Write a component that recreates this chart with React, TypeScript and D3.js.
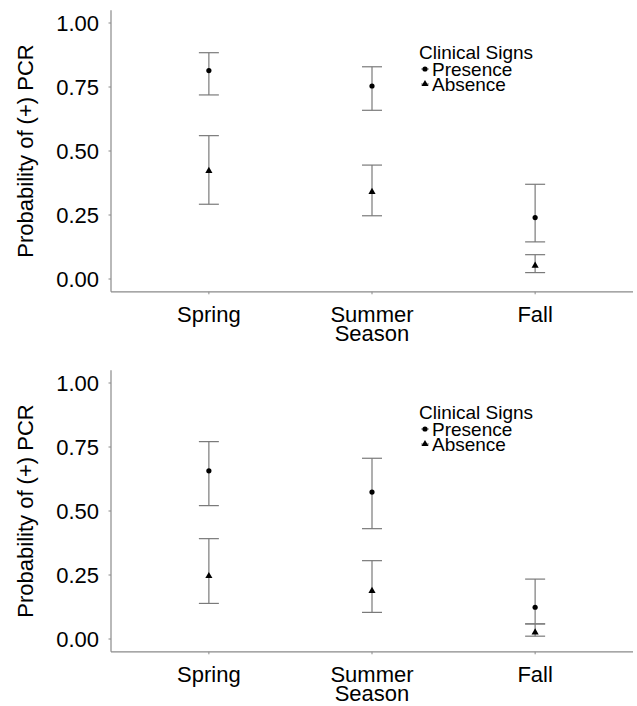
import React from "react";
import * as d3 from "d3";

const seasons = ["Spring", "Summer", "Fall"];
const yTicks = [0, 0.25, 0.5, 0.75, 1.0];
const legendTitle = "Clinical Signs";
const seriesNames = ["Presence", "Absence"];

// Top panel
const topPresenceEst = [0.814, 0.754, 0.24];
const topPresenceLo = [0.719, 0.659, 0.145];
const topPresenceHi = [0.884, 0.829, 0.37];
const topAbsenceEst = [0.422, 0.34, 0.052];
const topAbsenceLo = [0.292, 0.247, 0.025];
const topAbsenceHi = [0.56, 0.445, 0.095];

// Bottom panel
const botPresenceEst = [0.657, 0.574, 0.124];
const botPresenceLo = [0.521, 0.431, 0.059];
const botPresenceHi = [0.771, 0.706, 0.234];
const botAbsenceEst = [0.246, 0.188, 0.026];
const botAbsenceLo = [0.139, 0.104, 0.011];
const botAbsenceHi = [0.392, 0.306, 0.059];

const FONT = "'Liberation Sans', Arial, sans-serif";
const AXIS = "#8a8a8a";
const BAR = "#7a7a7a";
const TXT = "#000";

type Series = { est: number[]; lo: number[]; hi: number[]; shape: "circle" | "triangle" };

function Marker({ x, y, shape }: { x: number; y: number; shape: string }) {
  if (shape === "circle") return <circle cx={x} cy={y} r={2.6} fill="#000" />;
  const s = d3.symbol().type(d3.symbolTriangle).size(22)();
  return <path d={s as string} transform={`translate(${x},${y})`} fill="#000" />;
}

function Panel({ offsetY, series }: { offsetY: number; series: Series[] }) {
  const left = 111;
  const right = 633;
  const x = d3.scalePoint<string>().domain(seasons).range([left, right]).padding(0.6);
  const y = d3.scaleLinear().domain([-0.05, 1.05]).range([291.8, 10.2]);
  const capHalf = 10;
  return (
    <g transform={`translate(0,${offsetY})`}>
      <line x1={left} x2={left} y1={y(1.05)} y2={y(-0.05)} stroke={AXIS} strokeWidth={1.2} />
      <line x1={left} x2={right} y1={y(-0.05)} y2={y(-0.05)} stroke={AXIS} strokeWidth={1.2} />
      {yTicks.map((t) => (
        <g key={t}>
          <line x1={left - 2.5} x2={left} y1={y(t)} y2={y(t)} stroke={AXIS} strokeWidth={1} />
          <text x={99} y={y(t)} dy="0.36em" textAnchor="end" fontFamily={FONT} fontSize={22} fill={TXT}>
            {t.toFixed(2)}
          </text>
        </g>
      ))}
      {seasons.map((s) => (
        <g key={s}>
          <line x1={x(s)} x2={x(s)} y1={y(-0.05)} y2={y(-0.05) + 2.5} stroke={AXIS} strokeWidth={1} />
          <text x={x(s)} y={y(-0.05) + 22} dy="0.36em" textAnchor="middle" fontFamily={FONT} fontSize={22} fill={TXT}>
            {s}
          </text>
        </g>
      ))}
      <text x={(left + right) / 2} y={y(-0.05) + 41} dy="0.36em" textAnchor="middle" fontFamily={FONT} fontSize={22} fill={TXT}>
        Season
      </text>
      <text
        transform={`translate(25,${y(0.5)}) rotate(-90)`}
        dy="0.36em"
        textAnchor="middle"
        fontFamily={FONT}
        fontSize={22}
        fill={TXT}
      >
        Probability of (+) PCR
      </text>
      {series.map((ser, si) =>
        seasons.map((s, i) => {
          const cx = x(s) as number;
          return (
            <g key={`${si}-${s}`}>
              <line x1={cx} x2={cx} y1={y(ser.lo[i])} y2={y(ser.hi[i])} stroke={BAR} strokeWidth={1.2} />
              <line x1={cx - capHalf} x2={cx + capHalf} y1={y(ser.lo[i])} y2={y(ser.lo[i])} stroke={BAR} strokeWidth={1.2} />
              <line x1={cx - capHalf} x2={cx + capHalf} y1={y(ser.hi[i])} y2={y(ser.hi[i])} stroke={BAR} strokeWidth={1.2} />
              <Marker x={cx} y={y(ser.est[i])} shape={ser.shape} />
            </g>
          );
        })
      )}
      <text x={419} y={52} dy="0.36em" fontFamily={FONT} fontSize={19} fill={TXT}>
        {legendTitle}
      </text>
      {seriesNames.map((n, i) => {
        const ly = 69 + i * 15;
        return (
          <g key={n}>
            <line x1={421} x2={429} y1={ly} y2={ly} stroke={BAR} strokeWidth={1} />
            <Marker x={425} y={ly} shape={series[i].shape} />
            <text x={432} y={ly} dy="0.36em" fontFamily={FONT} fontSize={19} fill={TXT}>
              {n}
            </text>
          </g>
        );
      })}
    </g>
  );
}

export default function App() {
  const top: Series[] = [
    { est: topPresenceEst, lo: topPresenceLo, hi: topPresenceHi, shape: "circle" },
    { est: topAbsenceEst, lo: topAbsenceLo, hi: topAbsenceHi, shape: "triangle" },
  ];
  const bot: Series[] = [
    { est: botPresenceEst, lo: botPresenceLo, hi: botPresenceHi, shape: "circle" },
    { est: botAbsenceEst, lo: botAbsenceLo, hi: botAbsenceHi, shape: "triangle" },
  ];
  return (
    <svg width={637} height={706} style={{ position: "absolute", left: 0, top: 0, background: "#fff" }}>
      <rect width={637} height={706} fill="#fff" />
      <Panel offsetY={0} series={top} />
      <Panel offsetY={360} series={bot} />
    </svg>
  );
}
